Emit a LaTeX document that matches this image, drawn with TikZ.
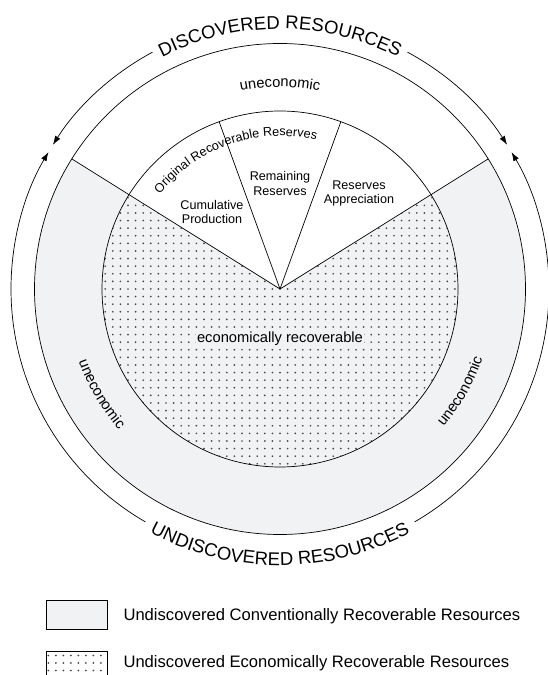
\documentclass[tikz,border=0pt]{standalone}
\usepackage{fontspec}
\setmainfont{Liberation Sans}
\usetikzlibrary{arrows.meta,decorations.text}
\definecolor{ringgray}{RGB}{241,242,243}
\definecolor{dotgray}{RGB}{70,70,70}
\tikzset{
  rim/.style={line width=0.7pt},
  flow/.style={line width=0.7pt, -{Latex[length=9pt,width=6pt]}},
  wedgelabel/.style={align=center, font=\fontsize{12.6}{14.6}\selectfont},
  bandlabel/.style={font=\fontsize{14.7}{16}\selectfont},
  keylabel/.style={anchor=base west, font=\fontsize{16.6}{18}\selectfont},
  keybox/.style={draw, line width=0.8pt, minimum width=61, minimum height=29, inner sep=0, anchor=north west},
  curvedtext/.style={decorate, decoration={text along path, text align=center, text={#1}}}
}

\begin{document}
\begin{tikzpicture}[x=1pt, y=1pt]
  \useasboundingbox (0,0) rectangle (548,675);
  \coordinate (c) at (280,386);
  \fill[ringgray] (c) -- ++(148:245.5) arc[start angle=148, end angle=392, radius=245.5] -- cycle;
  \begin{scope}[shift={(c)}]
    \clip (0,0) -- (148:178) arc[start angle=148, end angle=392, radius=178] -- cycle;
    \foreach \i in {-24,...,24}
      \foreach \j in {-24,...,24}
        \fill[dotgray] (\i*7.6,\j*7.6) circle[radius=0.95];
  \end{scope}
  \draw[rim] (c) circle[radius=245.5] (c) circle[radius=178];
  \draw[rim] (c) -- ++(148:245.5) (c) -- ++(32:245.5) (c) -- ++(110:178) (c) -- ++(70:178);

  \draw[flow] (c) ++(118.3:269) arc[start angle=118.3, end angle=147.6, radius=269];
  \draw[flow] (c) ++(240:269) arc[start angle=240, end angle=149.4, radius=269];
  \draw[flow] (c) ++(61.7:269) arc[start angle=61.7, end angle=32.4, radius=269];
  \draw[flow] (c) ++(-60:269) arc[start angle=-60, end angle=30.6, radius=269];

  \path[curvedtext={|\fontsize{18.5}{20}\selectfont|DISCOVERED RESOURCES}] (c) ++(125:260) arc[start angle=125, end angle=55, radius=260];
  \path[curvedtext={|\fontsize{18.5}{20}\selectfont|UNDISCOVERED RESOURCES}] (c) ++(-125:276.5) arc[start angle=-125, end angle=-55, radius=276.5];
  \path[curvedtext={|\fontsize{14.7}{16}\selectfont|uneconomic}] (c) ++(115:202) arc[start angle=115, end angle=65, radius=202];
  \path[curvedtext={|\fontsize{14.7}{16}\selectfont|uneconomic}] (c) ++(190:214) arc[start angle=190, end angle=231, radius=214];
  \path[curvedtext={|\fontsize{14.7}{16}\selectfont|uneconomic}] (c) ++(-50:214) arc[start angle=-50, end angle=-9, radius=214];
  \path[curvedtext={|\fontsize{12.6}{14}\selectfont|Original Recoverable Reserves}] (c) ++(149:153) arc[start angle=149, end angle=69, radius=153];

  \node[wedgelabel] (cumprod) at ([shift={(-68,77)}]c) {Cumulative\\Production};
  \node[wedgelabel] (remain) at ([shift={(0,105.5)}]c) {Remaining\\Reserves};
  \node[wedgelabel] (apprec) at ([shift={(79,95.7)}]c) {Reserves\\Appreciation};
  \node[bandlabel, fill=ringgray, inner sep=1.5pt, anchor=base] (econ) at ([shift={(0,-54)}]c) {economically recoverable};

  \node[keybox, fill=ringgray] (keyring) at (46,75) {};
  \node[keylabel] (keyringtext) at (120,54) {Undiscovered Conventionally Recoverable Resources};
  \node[keybox] (keydots) at (46,24) {};
  \foreach \i in {0,...,7}
    \foreach \j in {0,...,3}
      \fill[dotgray] (48.3+\i*7.5,19.5-\j*7.5) circle[radius=0.95];
  \node[keylabel] (keydotstext) at (120,7.5) {Undiscovered Economically Recoverable Resources};
\end{tikzpicture}
\end{document}
